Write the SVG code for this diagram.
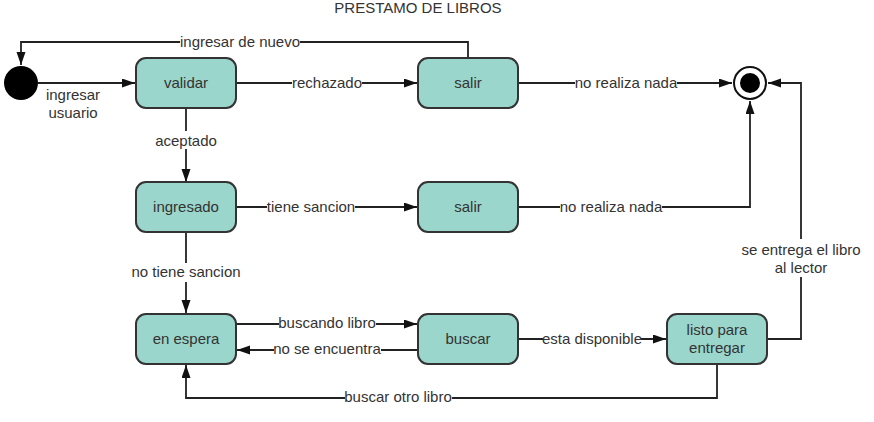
<svg xmlns="http://www.w3.org/2000/svg" width="874" height="422" viewBox="0 0 874 422">
<style>
text{font-family:"Liberation Sans",Arial,sans-serif;font-size:15px;fill:#333;text-anchor:middle;dominant-baseline:central}
.node rect{fill:#9ad6cb;stroke:#333;stroke-width:2}
.edge{fill:none;stroke:#222;stroke-width:1.8}
.lbl{fill:#fff}
</style>
<defs>
<marker id="arr" markerUnits="userSpaceOnUse" markerWidth="14" markerHeight="10" refX="13" refY="4.5" orient="auto">
<path d="M0,0 L13,4.5 L0,9 z" fill="#111"/>
</marker>
</defs>
<rect width="874" height="422" fill="#fff"/>
<text x="418" y="7">PRESTAMO DE LIBROS</text>

<g id="connectors">
<path class="edge" d="M38,83 H135" marker-end="url(#arr)"/>
<path class="edge" d="M236,83 H417" marker-end="url(#arr)"/>
<path class="edge" d="M468,58 V42 H21 V65" marker-end="url(#arr)"/>
<path class="edge" d="M518,83 H732" marker-end="url(#arr)"/>
<path class="edge" d="M186,108 V182" marker-end="url(#arr)"/>
<path class="edge" d="M236,207 H417" marker-end="url(#arr)"/>
<path class="edge" d="M518,207 H750 V101" marker-end="url(#arr)"/>
<path class="edge" d="M186,232 V313" marker-end="url(#arr)"/>
<path class="edge" d="M236,324 H417" marker-end="url(#arr)"/>
<path class="edge" d="M418,350 H237" marker-end="url(#arr)"/>
<path class="edge" d="M518,339 H666" marker-end="url(#arr)"/>
<path class="edge" d="M767,339 H801 V83 H768" marker-end="url(#arr)"/>
<path class="edge" d="M717,364 V398 H186 V365" marker-end="url(#arr)"/>

<rect class="lbl" x="292" y="74" width="70" height="17"/>
<text x="327" y="82">rechazado</text>
<rect class="lbl" x="180" y="33" width="120" height="17"/>
<text x="240" y="41">ingresar de nuevo</text>
<rect class="lbl" x="575" y="74" width="102" height="17"/>
<text x="626" y="82">no realiza nada</text>
<rect class="lbl" x="560" y="198" width="102" height="17"/>
<text x="611" y="206">no realiza nada</text>
<rect class="lbl" x="267" y="198" width="88" height="17"/>
<text x="311" y="206">tiene sancion</text>
<rect class="lbl" x="155" y="131" width="62" height="18"/>
<text x="186" y="140">aceptado</text>
<rect class="lbl" x="133" y="263" width="106" height="19"/>
<text x="186" y="271">no tiene sancion</text>
<rect class="lbl" x="279" y="315" width="97" height="17"/>
<text x="327" y="322">buscando libro</text>
<rect class="lbl" x="274" y="341" width="107" height="17"/>
<text x="327" y="348">no se encuentra</text>
<rect class="lbl" x="543" y="330" width="98" height="17"/>
<text x="592" y="338">esta disponible</text>
<rect class="lbl" x="345" y="388" width="107" height="17"/>
<text x="398" y="396">buscar otro libro</text>
<rect class="lbl" x="742" y="239" width="118" height="38"/>
<text x="801" y="249">se entrega el libro</text>
<text x="801" y="267">al lector</text>
<text x="73" y="94">ingresar</text>
<text x="73" y="112">usuario</text>
</g>

<g id="start"><circle cx="21" cy="83" r="17" fill="#000"/></g>
<g id="end">
<circle cx="750" cy="83" r="16" fill="#fff" stroke="#111" stroke-width="2"/>
<circle cx="750" cy="83" r="10" fill="#000"/>
</g>

<g id="validar" class="node"><rect x="136" y="58" width="100" height="50" rx="10"/><text x="186" y="82">validar</text></g>
<g id="salir1" class="node"><rect x="418" y="58" width="100" height="50" rx="10"/><text x="468" y="82">salir</text></g>
<g id="ingresado" class="node"><rect x="136" y="182" width="100" height="50" rx="10"/><text x="186" y="206">ingresado</text></g>
<g id="salir2" class="node"><rect x="418" y="182" width="100" height="50" rx="10"/><text x="468" y="206">salir</text></g>
<g id="enespera" class="node"><rect x="136" y="314" width="100" height="50" rx="10"/><text x="186" y="338">en espera</text></g>
<g id="buscar" class="node"><rect x="418" y="314" width="100" height="50" rx="10"/><text x="468" y="338">buscar</text></g>
<g id="listo" class="node"><rect x="667" y="314" width="100" height="50" rx="10"/><text x="717" y="329">listo para</text><text x="717" y="347">entregar</text></g>
</svg>
